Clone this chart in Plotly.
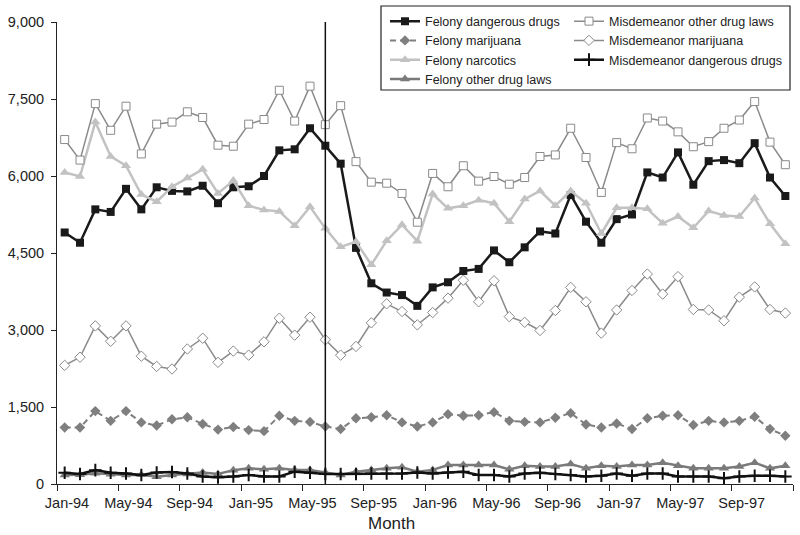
import plotly.graph_objects as go

months = [f"{m}-{y}" for y in ["94", "95", "96", "97"]
          for m in ["Jan", "Feb", "Mar", "Apr", "May", "Jun", "Jul", "Aug", "Sep", "Oct", "Nov", "Dec"]]

felony_dangerous = [4900, 4700, 5350, 5300, 5750, 5350, 5780, 5710, 5700, 5810, 5470, 5780,
                    5800, 6000, 6500, 6520, 6930, 6590, 6240, 4600, 3910, 3730, 3680, 3470,
                    3830, 3930, 4150, 4190, 4550, 4320, 4610, 4920, 4880, 5630, 5110, 4700,
                    5160, 5250, 6070, 5970, 6460, 5830, 6290, 6310, 6250, 6640, 5970, 5610]
felony_marijuana = [1100, 1100, 1420, 1230, 1420, 1200, 1140, 1260, 1300, 1170, 1060, 1110,
                    1050, 1030, 1330, 1230, 1210, 1120, 1070, 1280, 1300, 1340, 1200, 1120,
                    1200, 1360, 1330, 1340, 1400, 1230, 1210, 1200, 1290, 1380, 1160, 1100,
                    1180, 1070, 1280, 1330, 1340, 1150, 1230, 1200, 1230, 1310, 1070, 940]
felony_narcotics = [6070, 5990, 7050, 6380, 6200, 5640, 5500, 5790, 5960, 6130, 5660, 5910,
                    5420, 5340, 5310, 5030, 5400, 4980, 4620, 4720, 4270, 4740, 5050, 4730,
                    5650, 5370, 5420, 5530, 5470, 5110, 5550, 5710, 5420, 5710, 5470, 4880,
                    5380, 5380, 5360, 5080, 5210, 4990, 5320, 5230, 5210, 5570, 5070, 4680]
felony_other = [175, 180, 210, 190, 175, 180, 140, 175, 195, 225, 195, 270,
                305, 285, 305, 275, 275, 220, 175, 240, 275, 305, 325, 240,
                275, 370, 370, 370, 370, 285, 355, 340, 340, 390, 305, 355,
                340, 370, 370, 415, 355, 305, 305, 305, 340, 415, 305, 355]
misd_other = [6710, 6310, 7410, 6890, 7360, 6430, 7010, 7050, 7250, 7140, 6600, 6580,
              7010, 7100, 7670, 7070, 7750, 7000, 7370, 6280, 5880, 5860, 5660, 5100,
              6050, 5790, 6200, 5900, 5990, 5840, 5970, 6380, 6410, 6930, 6360, 5680,
              6650, 6530, 7130, 7070, 6860, 6570, 6670, 6930, 7090, 7450, 6660, 6220]
misd_marijuana = [2310, 2470, 3080, 2780, 3080, 2490, 2290, 2240, 2630, 2840, 2370, 2590,
                  2510, 2770, 3230, 2900, 3250, 2810, 2510, 2680, 3140, 3510, 3360, 3100,
                  3340, 3620, 3970, 3550, 3960, 3260, 3150, 2990, 3380, 3830, 3550, 2940,
                  3390, 3770, 4090, 3700, 4040, 3400, 3390, 3180, 3640, 3840, 3400, 3330]
misd_dangerous = [220, 195, 270, 220, 205, 175, 225, 235, 205, 145, 130, 145,
                  175, 145, 145, 240, 220, 195, 195, 195, 205, 205, 205, 225,
                  205, 225, 240, 175, 175, 145, 205, 220, 195, 175, 145, 160,
                  205, 160, 205, 205, 145, 145, 145, 110, 145, 160, 160, 145]

y_ticks = [0, 1500, 3000, 4500, 6000, 7500, 9000]
label_every = 4
event_month = "Jun-95"

x = list(range(len(months)))
FONT = "Liberation Sans, Arial, sans-serif"

fig = go.Figure()

def add(name, y, color, width, symbol, msize, legend, dash="solid",
        mfill=None, mline=0, mlinecolor=None):
    fig.add_trace(go.Scatter(
        x=x, y=y, name=name, mode="lines+markers", legend=legend,
        customdata=months,
        line=dict(color=color, width=width, dash=dash),
        marker=dict(symbol=symbol, size=msize, color=mfill or color,
                    line=dict(width=mline, color=mlinecolor or color)),
    ))

add("Felony dangerous drugs", felony_dangerous, "#1a1a1a", 2.5, "square", 8, "legend")
add("Felony marijuana", felony_marijuana, "#7f7f7f", 2, "diamond", 8, "legend", dash="6px,4px")
add("Felony narcotics", felony_narcotics, "#c2c2c2", 2.5, "triangle-up", 9, "legend")
add("Felony other drug laws", felony_other, "#7a7a7a", 2.5, "triangle-up", 9, "legend")
add("Misdemeanor other drug laws", misd_other, "#8a8a8a", 1.5, "square", 8, "legend2",
    mfill="white", mline=1, mlinecolor="#8a8a8a")
add("Misdemeanor marijuana", misd_marijuana, "#8a8a8a", 1.5, "diamond", 8, "legend2",
    mfill="white", mline=1, mlinecolor="#8a8a8a")
add("Misdemeanor dangerous drugs", misd_dangerous, "#111111", 2.5, "cross-thin", 9, "legend2",
    mline=2, mlinecolor="#111111")

L, T, PW, PH = 57, 22, 736, 462
def px(xp):
    return (xp - L) / PW
def py(yp):
    return (T + PH - yp) / PH

# tick marks at month boundaries, labels shifted to month centres
bounds = [i - 0.5 for i in range(0, len(months) + 1, label_every)]
btext = [months[i] if i < len(months) else "" for i in range(0, len(months) + 1, label_every)]

fig.update_layout(
    width=800, height=535,
    margin=dict(l=L, r=800 - L - PW, t=T, b=535 - T - PH),
    paper_bgcolor="white", plot_bgcolor="white",
    font=dict(family=FONT, color="#222222"),
    xaxis=dict(range=[-0.5, len(months) - 0.5], tickmode="array", tickvals=bounds,
               ticktext=btext, ticks="outside", ticklen=6, tickcolor="#222",
               ticklabelshift=10, showline=True, linecolor="#222", linewidth=1,
               showgrid=False, zeroline=False, tickfont=dict(size=14.5)),
    yaxis=dict(range=[0, 9000], tickmode="array", tickvals=y_ticks,
               ticktext=[f"{v:,}" for v in y_ticks], ticks="outside", ticklen=5,
               tickcolor="#222", ticklabelstandoff=4,
               showline=True, linecolor="#222", linewidth=1, showgrid=False,
               zeroline=False, tickfont=dict(size=14.5)),
    legend=dict(x=px(385), y=py(6.5), xanchor="left", yanchor="top",
                font=dict(size=12.5, family=FONT, color="#222"), bgcolor="rgba(0,0,0,0)",
                borderwidth=0, tracegroupgap=0),
    legend2=dict(x=px(569), y=py(6.5), xanchor="left", yanchor="top",
                 font=dict(size=12.5, family=FONT, color="#222"), bgcolor="rgba(0,0,0,0)",
                 borderwidth=0, tracegroupgap=0),
    showlegend=True,
)

fig.add_shape(type="rect", xref="paper", yref="paper",
              x0=px(381), x1=px(790), y0=py(90), y1=py(6),
              line=dict(color="#222", width=1.2), fillcolor="white", layer="below")

fig.add_shape(type="line", xref="x", yref="paper",
              x0=months.index(event_month), x1=months.index(event_month), y0=0, y1=1,
              line=dict(color="#111", width=1.5))

fig.add_annotation(text="Month", xref="paper", yref="paper", x=px(391), y=py(523),
                   xanchor="center", yanchor="middle", showarrow=False,
                   font=dict(size=17, family=FONT, color="#222"))

fig.write_html("out.html", config={"displayModeBar": False},
               post_script="document.body.style.margin='0';document.body.style.overflow='hidden';")
